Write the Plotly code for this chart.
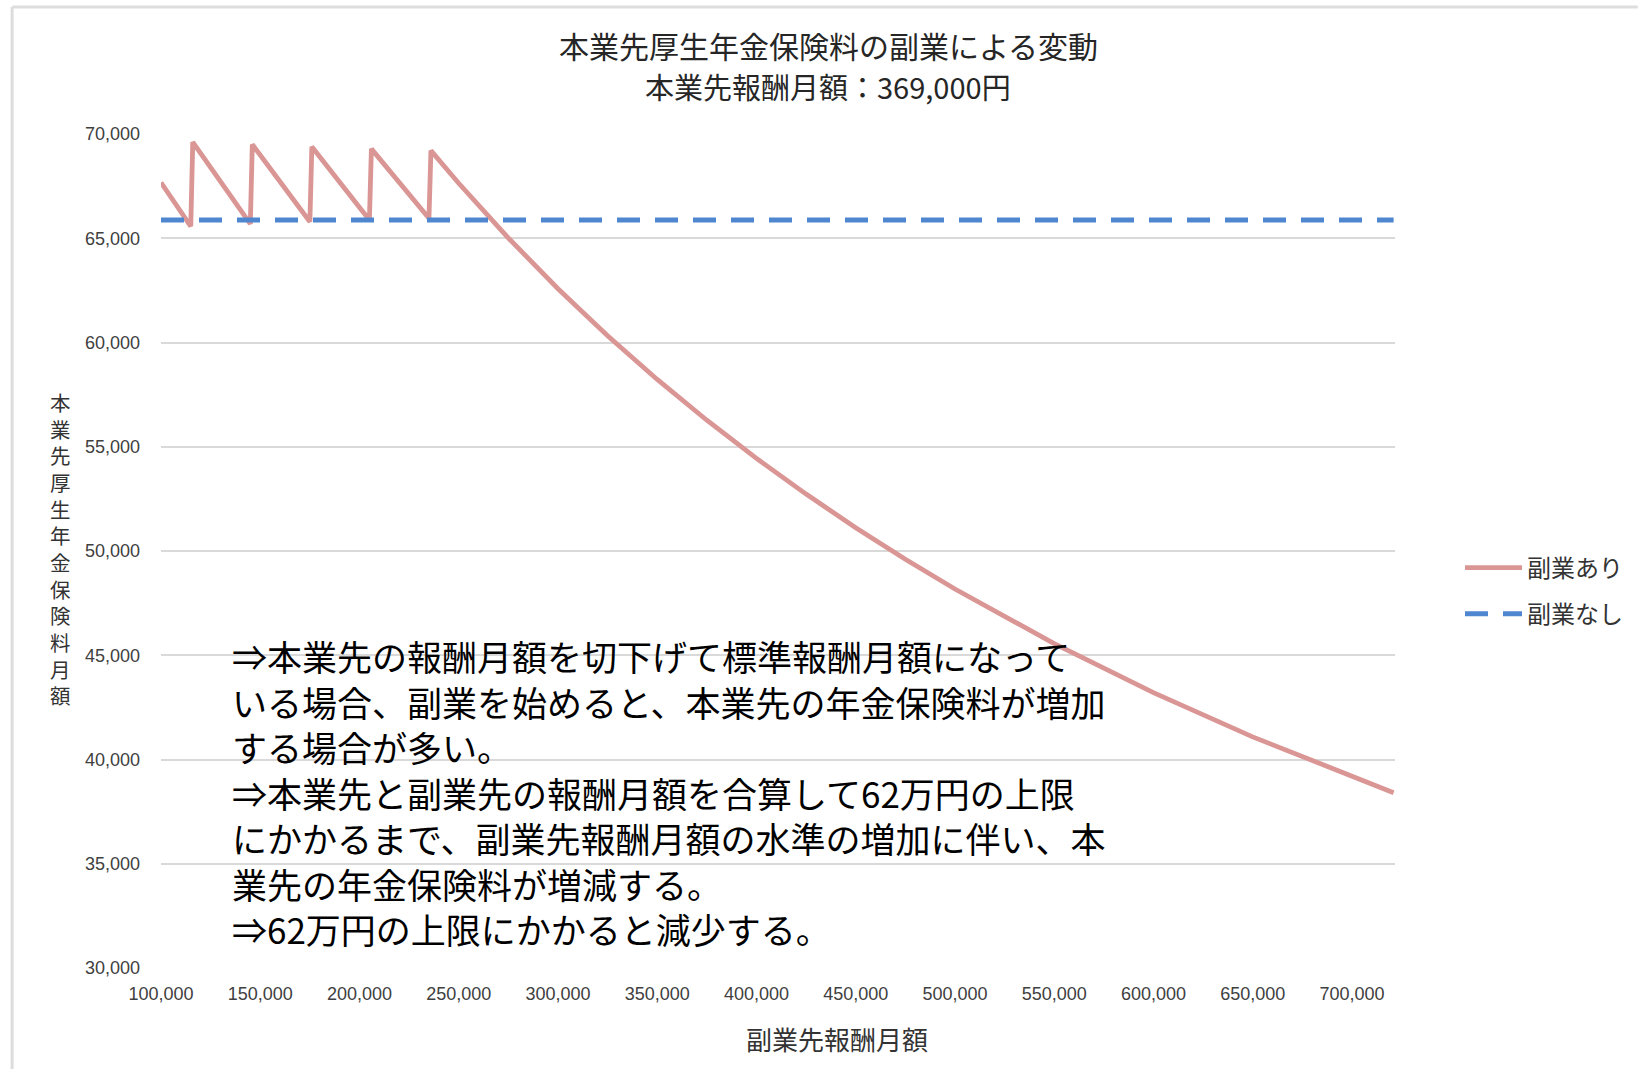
import plotly.graph_objects as go

# Side-job monthly remuneration (yen) and the main employer's monthly
# pension premium (yen) with and without the side job.
side_income = [100000, 115000, 116000, 145000, 146000, 175000, 176000,
               205000, 206000, 235000, 236000, 250000, 275000, 300000,
               325000, 350000, 375000, 400000, 425000, 450000, 475000,
               500000, 550000, 600000, 650000, 700000, 721000]
premium_with_side = [67671, 65574, 69615, 65688, 69494, 65789, 69385,
                     65879, 69288, 65961, 69200, 67636, 65010, 62581,
                     60327, 58229, 56272, 54443, 52729, 51119, 49605,
                     48178, 45557, 43206, 41086, 39165, 38410]
premium_without_side = [65880] * len(side_income)

series_names = ["副業あり", "副業なし"]
x_tick_values = list(range(100000, 700001, 50000))
y_tick_values = list(range(30000, 70001, 5000))

title_lines = ["本業先厚生年金保険料の副業による変動", "本業先報酬月額：369,000円"]
x_title = "副業先報酬月額"
y_title = "本業先厚生年金保険料月額"
note_lines = [
    "⇒本業先の報酬月額を切下げて標準報酬月額になって",
    "いる場合、副業を始めると、本業先の年金保険料が増加",
    "する場合が多い。",
    "⇒本業先と副業先の報酬月額を合算して62万円の上限",
    "にかかるまで、副業先報酬月額の水準の増加に伴い、本",
    "業先の年金保険料が増減する。",
    "⇒62万円の上限にかかると減少する。",
]

W, H = 1639, 1069
PL, PR, PT, PB = 161, 1396, 134, 968
JP = "Noto Sans CJK JP, Noto Sans, sans-serif"
NUM = "Liberation Sans, Arial, sans-serif"


def px(x):
    return (x - PL) / (PR - PL)


def py(y):
    return (PB - y) / (PB - PT)


def label(text, x, y, size, color="#333333", anchor="center"):
    return dict(text=text, x=px(x), y=py(y), xref="paper", yref="paper",
                xanchor=anchor, yanchor="middle", align=anchor if anchor != "center" else "center",
                showarrow=False, font=dict(family=JP, size=size, color=color))


fig = go.Figure()
fig.add_trace(go.Scatter(
    x=side_income, y=premium_with_side, name=series_names[0], mode="lines",
    line=dict(color="#DA9694", width=4.8), legendgroup="a",
))
fig.add_trace(go.Scatter(
    x=side_income, y=premium_without_side, name=series_names[1], mode="lines",
    line=dict(color="#4F86D0", width=5, dash="23px,15px"), legendgroup="b",
))

annotations = [
    # chart title, two lines
    label(title_lines[0], 829, 45, 30, "#262626"),
    label(title_lines[1], 829, 86, 29, "#262626"),
    # axis titles; the y title is stacked one character per row
    label(x_title, 838, 1038, 26),
    label("<br>".join(y_title), 60, 548, 20.5),
    # explanatory note
    label("<br>".join(note_lines), 230, 792, 35, "#000000", "left"),
]

shapes = [
    dict(type="line", xref="paper", yref="paper", x0=px(12), x1=px(W), y0=py(7), y1=py(7),
         line=dict(color="#DDDDDD", width=3)),
    dict(type="line", xref="paper", yref="paper", x0=px(12), x1=px(12), y0=py(7), y1=py(H),
         line=dict(color="#DDDDDD", width=3)),
]

fig.update_layout(
    width=W, height=H,
    margin=dict(l=PL, r=W - PR, t=PT, b=H - PB),
    paper_bgcolor="white", plot_bgcolor="white",
    annotations=annotations, shapes=shapes,
    showlegend=True,
    legend=dict(x=px(1460), y=py(591), xanchor="left", yanchor="middle",
                font=dict(family=JP, size=24, color="#333333"),
                tracegroupgap=12, itemwidth=57, bgcolor="rgba(0,0,0,0)"),
    xaxis=dict(range=[100000, 721700], tickvals=x_tick_values, tickformat=",d",
               showgrid=False, zeroline=False, showline=False,
               tickfont=dict(family=NUM, size=18, color="#404040"),
               ticklabelstandoff=13),
    yaxis=dict(range=[30000, 70000], tickvals=y_tick_values, tickformat=",d",
               showgrid=True, gridcolor="#D9D9D9", gridwidth=2, zeroline=False,
               showline=False,
               tickfont=dict(family=NUM, size=18, color="#404040"),
               ticklabelstandoff=20),
)

fig.write_html("out.html")
